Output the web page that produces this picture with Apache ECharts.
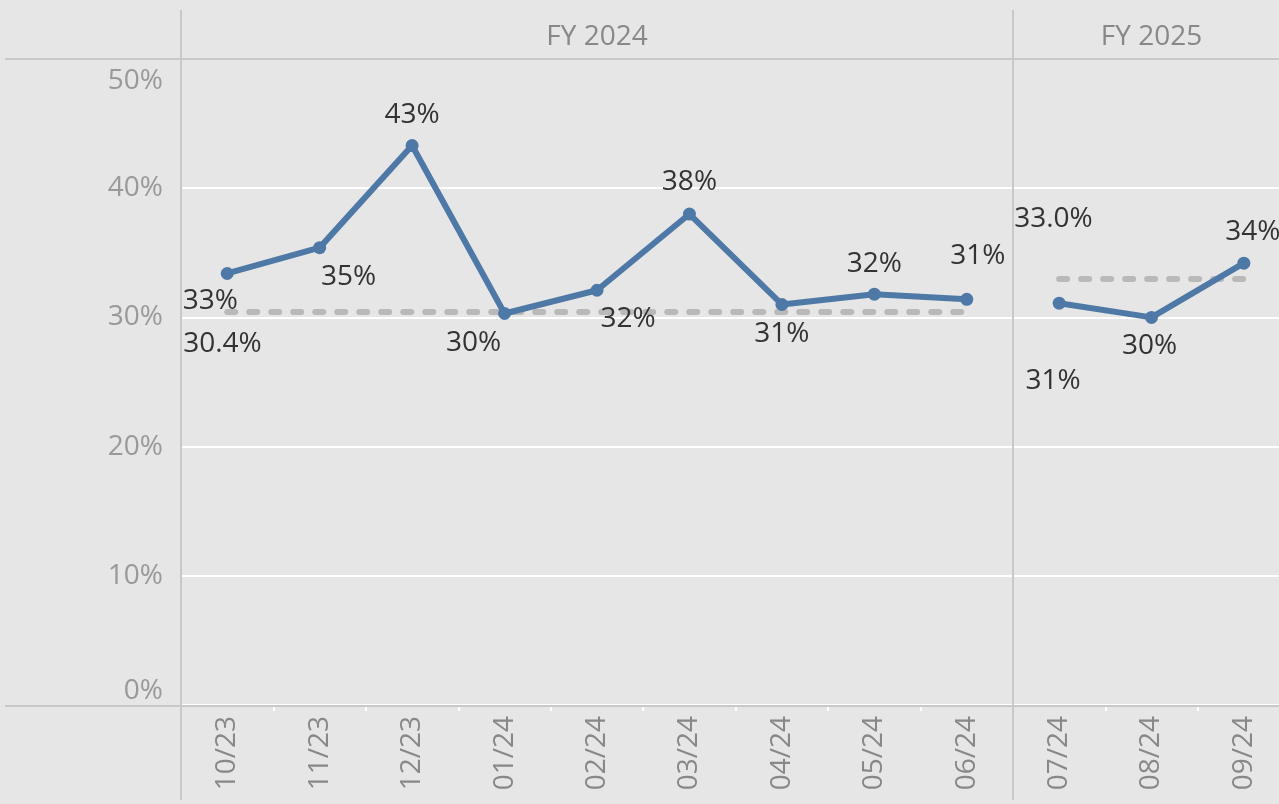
<!DOCTYPE html>
<html>
<head>
<meta charset="utf-8">
<title>FY 2024 / FY 2025</title>
<script src="https://cdn.jsdelivr.net/npm/echarts@6/dist/echarts.min.js"></script>
<style>
  html, body { margin: 0; padding: 0; background: #e6e6e6; overflow: hidden; }
  #chart { width: 1291px; height: 804px; }
</style>
</head>
<body>
<div id="chart"></div>
<script>
const fiscalYears = ['FY 2024', 'FY 2025'];
const months2024 = ['10/23', '11/23', '12/23', '01/24', '02/24', '03/24', '04/24', '05/24', '06/24'];
const months2025 = ['07/24', '08/24', '09/24'];
const values2024 = [33.4, 35.4, 43.3, 30.3, 32.1, 38.0, 31.0, 31.8, 31.4];
const values2025 = [31.1, 30.0, 34.2];
const refValues = [30.4, 33.0];
const yMin = 0, yMax = 50, yStep = 10;

// label placement around each point (dx, dy from the point)
const labelOffset2024 = [[-17, 28], [29, 29], [0, -31], [-31, 30], [31, 29], [0, -32], [0, 30], [0, -30], [11, -43]];
const labelOffset2025 = [[-6, 78], [-2, 29], [9, -31]];

const font = '"Open Sans", sans-serif';
const fontSize = 28;
const blue = '#4e79a7';
const border = '#c8c8c8';

const chart = echarts.init(document.getElementById('chart'));

const pointData = (values, offsets) => values.map((v, i) => ({
  value: v,
  label: { offset: offsets[i] }
}));

const yAxisOf = (gridIndex, showLabel) => ({
  type: 'value',
  gridIndex: gridIndex,
  min: yMin,
  max: yMax,
  interval: yStep,
  axisLine: { show: false },
  axisTick: { show: false },
  splitLine: { lineStyle: { color: '#ffffff', width: 2 } },
  axisLabel: {
    show: showLabel,
    formatter: v => v === yMax ? '{max|' + v + '%}' : v + '%',
    rich: { max: { padding: [8, 0, 0, 0], color: '#999999', fontSize: fontSize, fontFamily: font } },
    color: '#999999',
    fontSize: fontSize,
    fontFamily: font,
    margin: 18,
    verticalAlignMinLabel: 'bottom',
    verticalAlignMaxLabel: 'top'
  }
});

const monthAxisOf = (gridIndex, data) => ({
  type: 'category',
  gridIndex: gridIndex,
  data: data,
  boundaryGap: true,
  axisLine: { show: false },
  axisTick: { show: true, interval: 0, length: 6, lineStyle: { color: '#ffffff', width: 2 } },
  axisLabel: {
    interval: 0,
    rotate: 90,
    color: '#888888',
    fontSize: fontSize,
    fontFamily: font,
    margin: 11
  }
});

const yearAxisOf = (gridIndex, name) => ({
  type: 'category',
  gridIndex: gridIndex,
  position: 'top',
  data: [name],
  axisLine: { show: false },
  axisTick: { show: false },
  axisLabel: { color: '#888888', fontSize: fontSize, fontFamily: font, margin: 8 }
});

const lineSeries = (axisIndex, values, offsets, cats, ref, refLabel) => ({
  type: 'line',
  xAxisIndex: axisIndex,
  yAxisIndex: axisIndex,
  data: pointData(values, offsets),
  symbol: 'circle',
  symbolSize: 13,
  lineStyle: { color: blue, width: 6 },
  itemStyle: { color: blue },
  label: {
    show: true,
    position: 'inside',
    color: '#333333',
    fontSize: fontSize,
    fontFamily: font,
    formatter: p => Math.round(p.value) + '%'
  },
  markLine: {
    silent: true,
    symbol: 'none',
    z: 1,
    lineStyle: { color: '#b9b9b9', width: 6, type: [8, 14], cap: 'round' },
    label: Object.assign({
      color: '#333333',
      fontSize: fontSize,
      fontFamily: font,
      formatter: () => ref.toFixed(1) + '%'
    }, refLabel),
    data: [[
      { coord: [cats[0], ref] },
      { coord: [cats[cats.length - 1], ref] }
    ]]
  },
  z: 3
});

const hline = (y) => ({ type: 'line', z: 10, shape: { x1: 5, y1: y, x2: 1291, y2: y }, style: { stroke: border, lineWidth: 2 } });
const vline = (x) => ({ type: 'line', z: 10, shape: { x1: x, y1: 10, x2: x, y2: 800 }, style: { stroke: border, lineWidth: 2 } });

const option = {
  backgroundColor: '#e6e6e6',
  animation: false,
  textStyle: { fontFamily: font },
  grid: [
    { left: 181, top: 59, width: 832, height: 646 },
    { left: 1013, top: 59, width: 277, height: 646 }
  ],
  xAxis: [
    monthAxisOf(0, months2024),
    monthAxisOf(1, months2025),
    yearAxisOf(0, fiscalYears[0]),
    yearAxisOf(1, fiscalYears[1])
  ],
  yAxis: [yAxisOf(0, true), yAxisOf(1, false)],
  series: [
    lineSeries(0, values2024, labelOffset2024, months2024, refValues[0],
      { position: 'insideStartBottom', distance: [-44, 18] }),
    lineSeries(1, values2025, labelOffset2025, months2025, refValues[1],
      { position: 'insideStartTop', distance: [-45, 46] })
  ],
  graphic: [hline(59), hline(706), vline(181), vline(1013)]
};

chart.setOption(option);
</script>
</body>
</html>
